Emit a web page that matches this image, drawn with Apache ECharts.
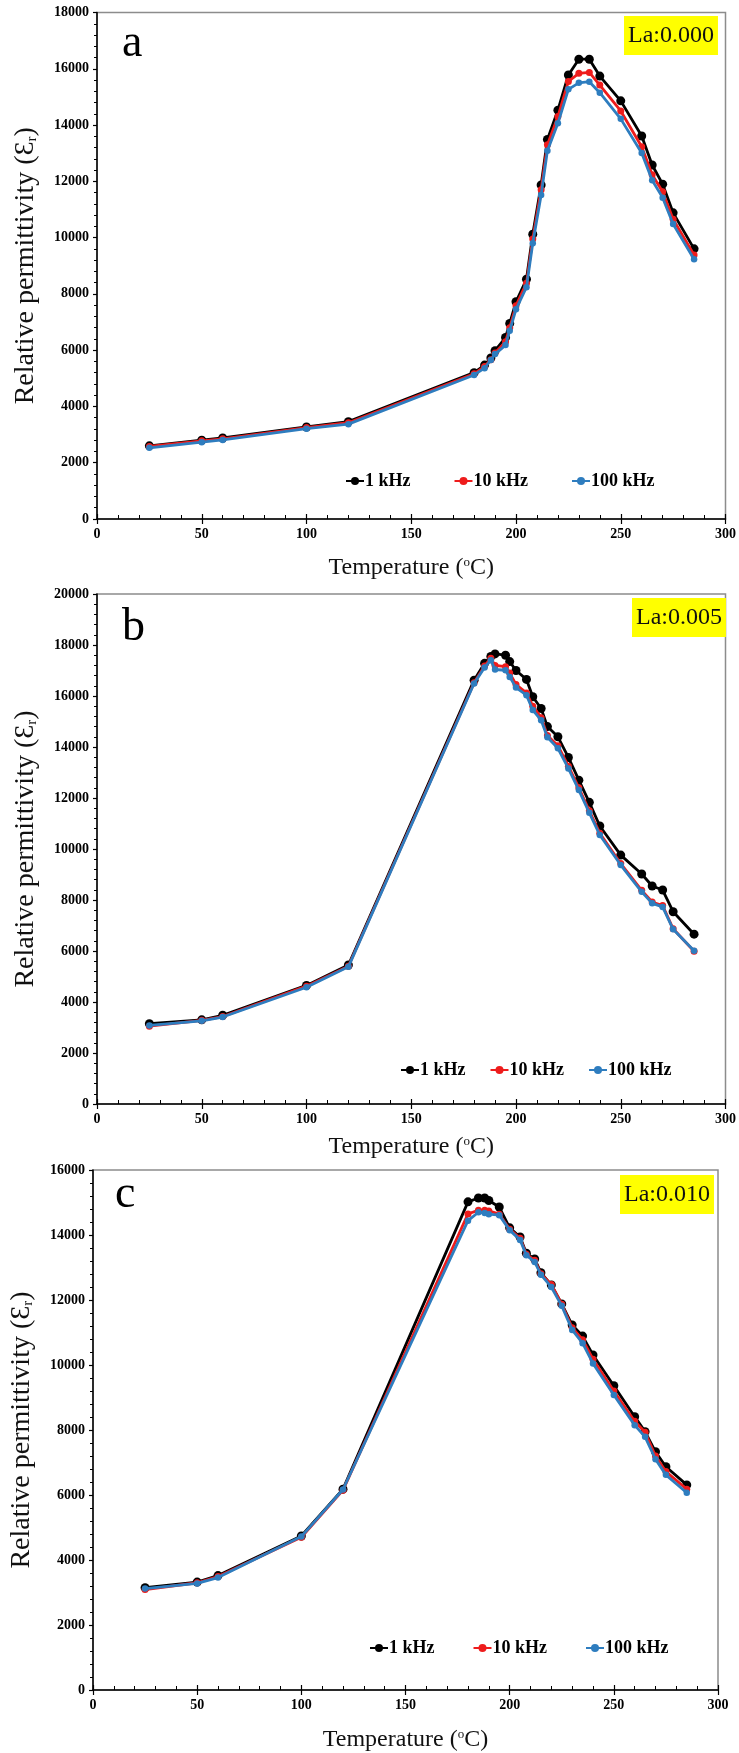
<!DOCTYPE html>
<html>
<head>
<meta charset="utf-8">
<script src="https://cdn.jsdelivr.net/npm/echarts@6/dist/echarts.min.js"></script>
<style>
html,body{margin:0;padding:0;background:#fff;}
#chart{width:739px;height:1753px;}
</style>
</head>
<body>
<div id="chart"></div>
<script>
// ---------- DATA ----------
const seriesNames = ['1 kHz', '10 kHz', '100 kHz'];
const xTicks = [0, 50, 100, 150, 200, 250, 300];

// Panel a: La 0.000
const tempA = [25, 50, 60, 100, 120, 180, 185, 188, 190, 195, 197, 200, 205, 208, 212, 215, 220, 225, 230, 235, 240, 250, 260, 265, 270, 275, 285];
const a1k   = [2600, 2800, 2880, 3270, 3460, 5200, 5470, 5720, 5980, 6450, 6950, 7720, 8520, 10120, 11870, 13490, 14530, 15780, 16340, 16340, 15740, 14860, 13610, 12580, 11900, 10880, 9600];
const a10k  = [2580, 2780, 2850, 3250, 3420, 5160, 5420, 5660, 5900, 6300, 6800, 7580, 8380, 9950, 11700, 13300, 14300, 15550, 15840, 15870, 15420, 14500, 13230, 12230, 11630, 10650, 9380];
const a100k = [2530, 2730, 2810, 3210, 3370, 5120, 5360, 5650, 5860, 6180, 6690, 7450, 8240, 9800, 11510, 13090, 14060, 15270, 15500, 15540, 15150, 14220, 13010, 12040, 11420, 10480, 9230];

// Panel b: La 0.005
const tempB = [25, 50, 60, 100, 120, 180, 185, 188, 190, 195, 197, 200, 205, 208, 212, 215, 220, 225, 230, 235, 240, 250, 260, 265, 270, 275, 285];
const b1k   = [3150, 3300, 3480, 4650, 5450, 16620, 17280, 17550, 17650, 17600, 17350, 17000, 16650, 15970, 15510, 14800, 14400, 13590, 12700, 11830, 10900, 9760, 9020, 8550, 8390, 7540, 6660];
const b10k  = [3050, 3280, 3430, 4620, 5400, 16520, 17180, 17480, 17200, 17150, 16900, 16450, 16120, 15600, 15150, 14450, 14050, 13250, 12400, 11500, 10620, 9430, 8380, 7920, 7780, 6870, 5990];
const b100k = [3080, 3260, 3410, 4580, 5380, 16490, 17120, 17400, 17040, 17010, 16750, 16330, 16030, 15450, 15050, 14380, 13950, 13160, 12310, 11420, 10550, 9370, 8320, 7870, 7730, 6850, 6010];

// Panel c: La 0.010
const tempC = [25, 50, 60, 100, 120, 180, 185, 188, 190, 195, 200, 205, 208, 212, 215, 220, 225, 230, 235, 240, 250, 260, 265, 270, 275, 285];
const c1k   = [3150, 3320, 3520, 4740, 6180, 15020, 15140, 15140, 15060, 14860, 14220, 13940, 13440, 13260, 12840, 12460, 11880, 11230, 10890, 10310, 9360, 8410, 7950, 7330, 6870, 6310];
const c10k  = [3090, 3300, 3490, 4700, 6150, 14650, 14760, 14760, 14740, 14640, 14180, 13900, 13410, 13220, 12810, 12480, 11870, 11150, 10780, 10180, 9200, 8270, 7930, 7200, 6720, 6180];
const c100k = [3120, 3280, 3460, 4720, 6170, 14440, 14700, 14680, 14640, 14610, 14150, 13850, 13380, 13170, 12780, 12400, 11820, 11080, 10670, 10050, 9080, 8150, 7790, 7100, 6620, 6070];

const panelLetters = ['a', 'b', 'c'];
const panelLabels = ['La:0.000', 'La:0.005', 'La:0.010'];
const yMax = [18000, 20000, 16000];

// ---------- CHART ----------
const SERIF = "'Liberation Serif', 'Times New Roman', serif";
const colors = ['#000000', '#ee1c1c', '#2e7dbf'];
const symSizes = [9, 7, 6.5];

const grids = [
  {left: 97, top: 12.5, width: 629, height: 506.5},
  {left: 97, top: 594, width: 632, height: 510},
  {left: 89, top: 1170, width: 629, height: 525}
];
const xNameGap = [37, 31, 38];
const legendPos = [{left: 340, top: 467, gap: 43}, {left: 395, top: 1056, gap: 24}, {left: 364, top: 1634, gap: 38}];
const letterPos = [[122, 67], [122, 651], [115, 1218]];
const labelPos = [[624, 16], [632, 598], [620, 1175]];

const temps = [tempA, tempB, tempC];
const vals = [[a1k, a10k, a100k], [b1k, b10k, b100k], [c1k, c10k, c100k]];

const mainX = grids.map((g, i) => ({
  gridIndex: i, type: 'value', min: 0, max: 300, interval: 50,
  name: 'Temperature ({sup|o}C)',
  nameLocation: 'middle', nameGap: xNameGap[i],
  nameTextStyle: {fontFamily: SERIF, fontSize: 24, color: '#111',
    rich: {sup: {fontFamily: SERIF, fontSize: 13, verticalAlign: 'top', padding: [0, 0, 10, 0], color: '#111'}}},
  axisLine: {show: true, lineStyle: {color: '#000', width: 1.5}},
  axisTick: {show: true, length: 5, lineStyle: {color: '#000', width: 1.2}},
  minorTick: {show: false},
  splitLine: {show: false},
  axisLabel: {fontFamily: SERIF, fontWeight: 'bold', fontSize: 14, color: '#000', margin: 8,
    formatter: v => String(v)}
}));
// inner ticks (ticks crossing the axis, minor ticks inside)
const innerX = grids.map((g, i) => ({
  gridIndex: i, type: 'value', min: 0, max: 300, interval: 50, position: 'bottom',
  axisLine: {show: false},
  axisTick: {show: true, inside: true, length: 5, lineStyle: {color: '#000', width: 1.2}},
  minorTick: {show: true, splitNumber: 5, length: 4, lineStyle: {color: '#000', width: 1}},
  splitLine: {show: false}, axisLabel: {show: false}
}));

const option = {
  animation: false,
  backgroundColor: '#ffffff',
  grid: grids.map(g => Object.assign({show: true, borderColor: '#8c8c8c', borderWidth: 1.5, backgroundColor: 'transparent'}, g)),
  xAxis: mainX.concat(innerX),
  yAxis: grids.map((g, i) => ({
    gridIndex: i, type: 'value', min: 0, max: yMax[i], interval: 2000,
    name: 'Relative permittivity ({e|Ɛ}{sub|r})',
    nameLocation: 'middle', nameGap: 57,
    nameTextStyle: {fontFamily: SERIF, fontSize: 28, color: '#111',
      rich: {e: {fontFamily: SERIF, fontSize: 28, color: '#111'},
             sub: {fontFamily: SERIF, fontSize: 15, verticalAlign: 'bottom', padding: [8, 0, 0, 0], color: '#111'}}},
    axisLine: {show: true, lineStyle: {color: '#000', width: 1.5}},
    axisTick: {show: true, length: 4, lineStyle: {color: '#000', width: 1.2}},
    minorTick: {show: true, splitNumber: 5, length: 3, lineStyle: {color: '#000', width: 1}},
    splitLine: {show: false},
    axisLabel: {fontFamily: SERIF, fontWeight: 'bold', fontSize: 14, color: '#000', margin: 8,
      formatter: v => String(v)}
  })),
  legend: legendPos.map(p => ({
    left: p.left, top: p.top, orient: 'horizontal',
    data: seriesNames, itemWidth: 18, itemHeight: 10, itemGap: p.gap,
    textStyle: {fontFamily: SERIF, fontWeight: 'bold', fontSize: 18, color: '#000', padding: [0, 0, 0, -4]}
  })),
  title: labelPos.map((p, i) => ({
    text: panelLabels[i], left: p[0], top: p[1],
    backgroundColor: '#ffff00', padding: [8, 4, 7, 4],
    textStyle: {fontFamily: SERIF, fontSize: 24, fontWeight: 'normal', color: '#111', lineHeight: 24}
  })),
  graphic: letterPos.map((p, i) => ({
    type: 'text', x: p[0], y: p[1], silent: true,
    style: {text: panelLetters[i], font: '46px ' + SERIF, fill: '#000', textVerticalAlign: 'bottom'}
  })),
  series: []
};

for (let p = 0; p < 3; p++) {
  for (let s = 0; s < 3; s++) {
    option.series.push({
      name: seriesNames[s], type: 'line',
      xAxisIndex: p, yAxisIndex: p,
      data: temps[p].map((t, k) => [t, vals[p][s][k]]),
      symbol: 'circle', symbolSize: symSizes[s], showSymbol: true,
      lineStyle: {color: colors[s], width: 2.8},
      itemStyle: {color: colors[s]},
      emphasis: {disabled: true}, silent: true, z: 2 + s
    });
  }
}

const chart = echarts.init(document.getElementById('chart'), null, {renderer: 'canvas', width: 739, height: 1753});
chart.setOption(option);
</script>
</body>
</html>
